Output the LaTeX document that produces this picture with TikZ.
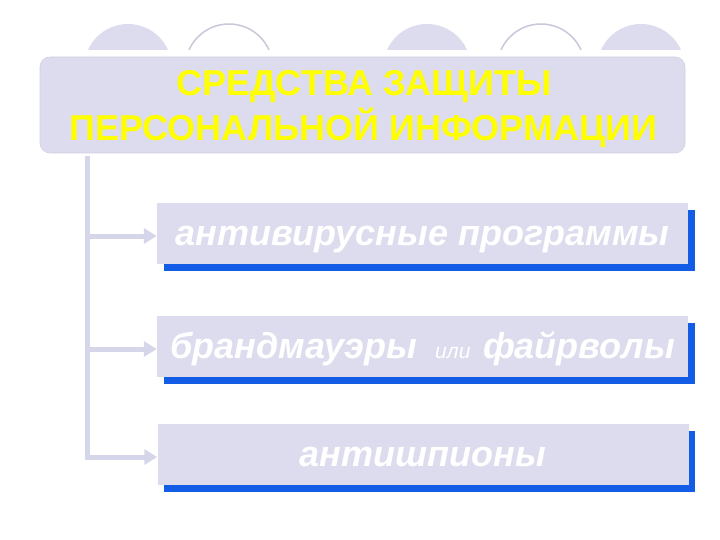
\documentclass[tikz,border=0pt]{standalone}
\usepackage{fontspec}
\setmainfont{Liberation Sans}
\usetikzlibrary{arrows.meta,shadows}
\definecolor{lav}{RGB}{220,220,238}
\definecolor{lavline}{RGB}{214,214,234}
\definecolor{arcgrey}{RGB}{200,200,218}
\definecolor{hdrborder}{RGB}{208,208,224}
\definecolor{shadowblue}{RGB}{18,92,230}
\definecolor{ttl}{RGB}{255,255,0}
\tikzset{
  hdr/.style={fill=lav, draw=hdrborder, line width=0.6pt, rounded corners=10pt,
    minimum width=645pt, minimum height=96pt, inner sep=0pt},
  hdrtext/.style={anchor=base, inner sep=0pt, text=ttl,
    font=\bfseries\fontsize{36}{45}\selectfont},
  item/.style={fill=lav, minimum width=531pt, minimum height=61pt, inner sep=0pt,
    text height=28pt, text depth=5pt,
    text=white, font=\bfseries\itshape\fontsize{36}{40}\selectfont,
    general shadow={fill=shadowblue, shadow xshift=6.5pt, shadow yshift=-7pt}},
  conn/.style={draw=lavline, line width=5pt},
  arr/.style={conn, -{Triangle[length=13pt,width=15pt]}},
  capfill/.style={fill=lav},
  caparc/.style={draw=arcgrey, line width=1.5pt},
}
\begin{document}
\begin{tikzpicture}[x=1pt,y=-1pt]
\useasboundingbox (0,0) rectangle (720,540);
% decorative caps above the header
\begin{scope}
  \clip (0,0) rectangle (720,50);
  \fill[capfill] (128,67.8) circle (43.8);
  \draw[caparc] (229,67.8) circle (43.8);
  \fill[capfill] (427,67.8) circle (43.8);
  \draw[caparc] (541,67.8) circle (43.8);
  \fill[capfill] (641,67.8) circle (43.8);
\end{scope}
% header
\node[hdr] (hdr) at (362.5,105) {};
\node[hdrtext] (t1) at (364,96) {СРЕДСТВА ЗАЩИТЫ};
\node[hdrtext] (t2) at (363.5,141) {ПЕРСОНАЛЬНОЙ ИНФОРМАЦИИ};
% items
\node[item] (b1) at (422.5,233.5) {антивирусные программы};
\node[item] (b2) at (422.5,346.5) {брандмауэры\hspace{0.5em}{\fontsize{21}{24}\selectfont\mdseries или}\hspace{0.35em}файрволы};
\node[item] (b3) at (423,454.5) {антишпионы};
% connectors
\coordinate (top) at (87.5,156);
\coordinate (e1) at ([yshift=-2.5pt]b1.west);
\coordinate (e2) at ([yshift=-2.5pt]b2.west);
\coordinate (e3) at ([yshift=-2.5pt]b3.west);
\draw[arr] (top) |- (e3);
\draw[arr] (top |- e1) -- (e1);
\draw[arr] (top |- e2) -- (e2);
\end{tikzpicture}
\end{document}
